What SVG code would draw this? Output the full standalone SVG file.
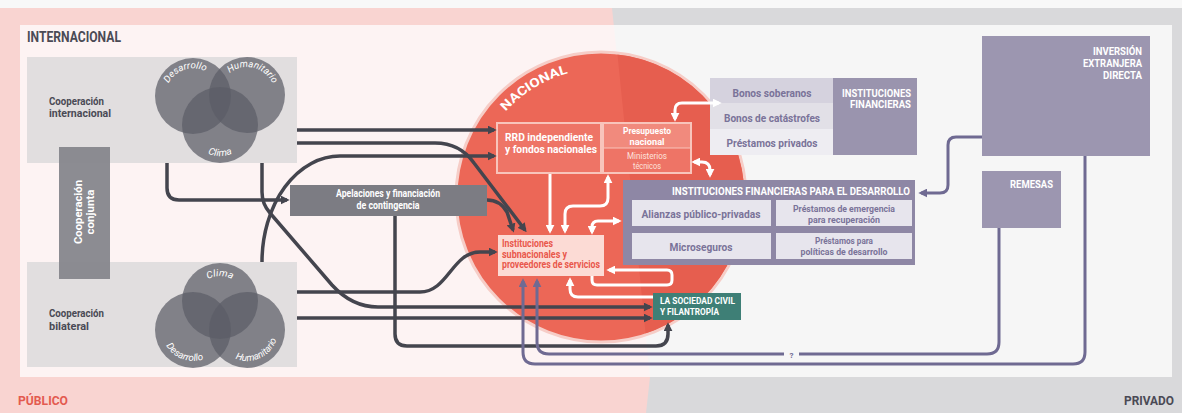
<svg xmlns="http://www.w3.org/2000/svg" width="1182" height="413" viewBox="0 0 1182 413">
<defs>
<style>
text{font-family:Roboto,"Liberation Sans",Arial,sans-serif;font-weight:700}
.dk{fill:none;stroke:#44454e;stroke-width:3.5;stroke-linejoin:round}
.wh{fill:none;stroke:#ffffff;stroke-width:3;stroke-linejoin:round}
.pu{fill:none;stroke:#6f6a92;stroke-width:3;stroke-linejoin:round}
.vn{fill:#5c5d67;fill-opacity:0.72}
.vl{fill:#ffffff;font-size:9.5px;font-style:italic;font-weight:400}
.pt{fill:#7a7399;font-size:10.5px;text-anchor:middle}
.wt{fill:#ffffff}
.cb{fill:#e1dedf}
.lb{fill:#4a4a55;font-size:11px}
</style>
<marker id="ad" viewBox="0 0 10 10" refX="7" refY="5" markerWidth="9" markerHeight="9" markerUnits="userSpaceOnUse" orient="auto-start-reverse"><path d="M0,0L10,5L0,10z" fill="#44454e"/></marker>
<marker id="aw" viewBox="0 0 10 10" refX="7" refY="5" markerWidth="9" markerHeight="9" markerUnits="userSpaceOnUse" orient="auto-start-reverse"><path d="M0,0L10,5L0,10z" fill="#ffffff"/></marker>
<marker id="ap" viewBox="0 0 10 10" refX="7" refY="5" markerWidth="9" markerHeight="9" markerUnits="userSpaceOnUse" orient="auto-start-reverse"><path d="M0,0L10,5L0,10z" fill="#6f6a92"/></marker>
<clipPath id="rightside"><polygon points="612,0 1182,0 1182,413 646,413 650,377"/></clipPath>
<path id="vp1" d="M166.6,87.2 A28,28 0 0 1 209.2,73.5"/>
<path id="vp2" d="M228.6,73.9 A28,28 0 0 1 273.1,84.9"/>
<path id="vp3" d="M193.2,141.5 A32,32 0 0 0 246.8,141.5"/>
<path id="vp4" d="M198.35,288.5 A25,25 0 0 1 241.65,288.5"/>
<path id="vp5" d="M163.1,338 A31,31 0 0 0 210.8,355.4"/>
<path id="vp6" d="M229.2,355.4 A31,31 0 0 0 277.9,332.7"/>
<path id="np" d="M480.7,153.2 A128,128 0 0 1 616.6,69.95"/>
</defs>

<g id="background">
<rect x="0" y="0" width="1182" height="413" fill="#d9d9db"/>
<polygon points="0,8 612,8 650,377 646,413 0,413" fill="#f9d4d1"/>
<rect x="0" y="0" width="1182" height="8" fill="#f8f8f8"/>
<rect x="20" y="25" width="1152" height="352" fill="#f6f6f6"/>
<polygon points="20,25 613.75,25 650,377 20,377" fill="#fdf3f3"/>
<text x="18" y="405" font-size="13" fill="#e35a4f" textLength="50" lengthAdjust="spacingAndGlyphs">PÚBLICO</text>
<text x="1124" y="405" font-size="13" fill="#4a4a55" textLength="50" lengthAdjust="spacingAndGlyphs">PRIVADO</text>
<text x="27" y="42" font-size="14" fill="#4a4a55" textLength="94" lengthAdjust="spacingAndGlyphs">INTERNACIONAL</text>
</g>

<g id="nacional">
<circle cx="601" cy="197" r="145" fill="#ec6757" stroke="#f6cdc7" stroke-width="3"/>
<circle cx="601" cy="197" r="143.5" fill="#e65e4f" clip-path="url(#rightside)"/>
<text font-size="12.5" fill="#ffffff"><textPath href="#np" startOffset="50%" text-anchor="middle" textLength="74" lengthAdjust="spacingAndGlyphs">NACIONAL</textPath></text>
</g>

<g id="coop-internacional">
<rect class="cb" x="27" y="57" width="270" height="106"/>
<text class="lb" x="49" y="105" textLength="55" lengthAdjust="spacingAndGlyphs">Cooperación</text>
<text class="lb" x="49" y="117" textLength="62" lengthAdjust="spacingAndGlyphs">internacional</text>
<circle class="vn" cx="193" cy="96" r="38"/>
<circle class="vn" cx="247" cy="95" r="38"/>
<circle class="vn" cx="220" cy="125" r="38"/>
<text class="vl"><textPath href="#vp1" startOffset="50%" text-anchor="middle" textLength="43" lengthAdjust="spacingAndGlyphs">Desarrollo</textPath></text>
<text class="vl"><textPath href="#vp2" startOffset="50%" text-anchor="middle" textLength="51" lengthAdjust="spacingAndGlyphs">Humanitario</textPath></text>
<text class="vl"><textPath href="#vp3" startOffset="50%" text-anchor="middle" textLength="25" lengthAdjust="spacingAndGlyphs">Clima</textPath></text>
</g>

<g id="coop-bilateral">
<rect class="cb" x="27" y="262" width="270" height="105"/>
<text class="lb" x="49" y="317" textLength="55" lengthAdjust="spacingAndGlyphs">Cooperación</text>
<text class="lb" x="49" y="330" textLength="40" lengthAdjust="spacingAndGlyphs">bilateral</text>
<circle class="vn" cx="220" cy="301" r="38"/>
<circle class="vn" cx="193" cy="330" r="38"/>
<circle class="vn" cx="247" cy="330" r="38"/>
<text class="vl"><textPath href="#vp4" startOffset="50%" text-anchor="middle" textLength="25" lengthAdjust="spacingAndGlyphs">Clima</textPath></text>
<text class="vl"><textPath href="#vp5" startOffset="50%" text-anchor="middle" textLength="43" lengthAdjust="spacingAndGlyphs">Desarrollo</textPath></text>
<text class="vl"><textPath href="#vp6" startOffset="50%" text-anchor="middle" textLength="51" lengthAdjust="spacingAndGlyphs">Humanitario</textPath></text>
</g>

<g id="coop-conjunta">
<rect x="59" y="147" width="51" height="132" fill="#86868c" fill-opacity="0.95"/>
<g transform="translate(85,212) rotate(-90)" font-size="11.5" fill="#ffffff">
<text x="0" y="-3" text-anchor="middle" textLength="64" lengthAdjust="spacingAndGlyphs">Cooperación</text>
<text x="0" y="9" text-anchor="middle" textLength="45" lengthAdjust="spacingAndGlyphs">conjunta</text>
</g>
</g>

<g id="apelaciones">
<rect x="290" y="185" width="197" height="31" fill="#7c7c83"/>
<text class="wt" x="388" y="197" font-size="10.5" text-anchor="middle" textLength="104" lengthAdjust="spacingAndGlyphs">Apelaciones y financiación</text>
<text class="wt" x="388" y="209" font-size="10.5" text-anchor="middle" textLength="63" lengthAdjust="spacingAndGlyphs">de contingencia</text>
</g>

<g id="rrd">
<rect x="497" y="123" width="104" height="50" fill="#ee7466" stroke="#f8c4bb" stroke-width="2"/>
<text class="wt" x="505" y="141" font-size="11.5" textLength="88" lengthAdjust="spacingAndGlyphs">RRD independiente</text>
<text class="wt" x="505" y="153" font-size="11.5" textLength="92" lengthAdjust="spacingAndGlyphs">y fondos nacionales</text>
</g>

<g id="presupuesto">
<rect x="603" y="123" width="88" height="50" fill="#ee7466" stroke="#f8c4bb" stroke-width="2"/>
<rect x="604" y="124" width="86" height="24" fill="#f18a7d"/>
<line x1="603" y1="148" x2="691" y2="148" stroke="#f8c4bb" stroke-width="1"/>
<text class="wt" x="647" y="134" font-size="9.5" text-anchor="middle" textLength="48" lengthAdjust="spacingAndGlyphs">Presupuesto</text>
<text class="wt" x="647" y="145" font-size="9.5" text-anchor="middle" textLength="35" lengthAdjust="spacingAndGlyphs">nacional</text>
<text x="647" y="159" font-size="9.5" fill="#fde2dc" text-anchor="middle" textLength="40" lengthAdjust="spacingAndGlyphs" style="font-weight:400">Ministerios</text>
<text x="647" y="169" font-size="9.5" fill="#fde2dc" text-anchor="middle" textLength="28" lengthAdjust="spacingAndGlyphs" style="font-weight:400">técnicos</text>
</g>

<g id="subnacionales">
<rect x="498" y="235" width="106" height="41" fill="#fcdbd5"/>
<text x="502" y="247" font-size="10" fill="#e9574b" textLength="51" lengthAdjust="spacingAndGlyphs">Instituciones</text>
<text x="502" y="258" font-size="10" fill="#e9574b" textLength="65" lengthAdjust="spacingAndGlyphs">subnacionales y</text>
<text x="502" y="268" font-size="10" fill="#e9574b" textLength="98" lengthAdjust="spacingAndGlyphs">proveedores de servicios</text>
</g>

<g id="sociedad-civil">
<rect x="653" y="293" width="88" height="27" fill="#3e7f76"/>
<text class="wt" x="660" y="304" font-size="9.5" textLength="75" lengthAdjust="spacingAndGlyphs">LA SOCIEDAD CIVIL</text>
<text class="wt" x="660" y="315" font-size="9.5" textLength="59" lengthAdjust="spacingAndGlyphs">Y FILANTROPÍA</text>
</g>

<g id="instituciones-financieras">
<rect x="710" y="78" width="123" height="25" fill="#d5d2de"/>
<rect x="710" y="103" width="123" height="26" fill="#e2e0e7"/>
<rect x="710" y="129" width="123" height="26" fill="#eeedf2"/>
<rect x="833" y="78" width="84" height="77" fill="#9a94ae"/>
<text class="pt" x="772" y="97" textLength="79" lengthAdjust="spacingAndGlyphs">Bonos soberanos</text>
<text class="pt" x="772" y="122" textLength="96" lengthAdjust="spacingAndGlyphs">Bonos de catástrofes</text>
<text class="pt" x="772" y="147" textLength="91" lengthAdjust="spacingAndGlyphs">Préstamos privados</text>
<text class="wt" x="911" y="97" font-size="10.5" text-anchor="end" textLength="69" lengthAdjust="spacingAndGlyphs">INSTITUCIONES</text>
<text class="wt" x="911" y="108" font-size="10.5" text-anchor="end" textLength="61" lengthAdjust="spacingAndGlyphs">FINANCIERAS</text>
</g>

<g id="ifd">
<rect x="623" y="180" width="292" height="85" fill="#8e87a5"/>
<text class="wt" x="910" y="195" font-size="10.5" text-anchor="end" textLength="238" lengthAdjust="spacingAndGlyphs">INSTITUCIONES FINANCIERAS PARA EL DESARROLLO</text>
<rect x="632" y="200" width="139" height="26" fill="#e7e5ed"/>
<rect x="776" y="200" width="136" height="26" fill="#e7e5ed"/>
<rect x="632" y="233" width="139" height="26" fill="#e7e5ed"/>
<rect x="776" y="233" width="136" height="26" fill="#e7e5ed"/>
<text class="pt" x="701" y="218" textLength="119" lengthAdjust="spacingAndGlyphs">Alianzas público-privadas</text>
<text class="pt" x="844" y="212" textLength="102" lengthAdjust="spacingAndGlyphs" style="font-size:9.5px">Préstamos de emergencia</text>
<text class="pt" x="844" y="223" textLength="72" lengthAdjust="spacingAndGlyphs" style="font-size:9.5px">para recuperación</text>
<text class="pt" x="701" y="251" textLength="63" lengthAdjust="spacingAndGlyphs">Microseguros</text>
<text class="pt" x="844" y="244" textLength="58" lengthAdjust="spacingAndGlyphs" style="font-size:9.5px">Préstamos para</text>
<text class="pt" x="844" y="255" textLength="87" lengthAdjust="spacingAndGlyphs" style="font-size:9.5px">políticas de desarrollo</text>
</g>

<g id="ied">
<rect x="982" y="36" width="168" height="120" fill="#9c96b0"/>
<text class="wt" x="1142" y="55" font-size="10.5" text-anchor="end" textLength="49" lengthAdjust="spacingAndGlyphs">INVERSIÓN</text>
<text class="wt" x="1142" y="67" font-size="10.5" text-anchor="end" textLength="59" lengthAdjust="spacingAndGlyphs">EXTRANJERA</text>
<text class="wt" x="1142" y="79" font-size="10.5" text-anchor="end" textLength="39" lengthAdjust="spacingAndGlyphs">DIRECTA</text>
</g>

<g id="remesas">
<rect x="982" y="171" width="79" height="57" fill="#9c96b0"/>
<text class="wt" x="1053" y="188" font-size="10.5" text-anchor="end" textLength="43" lengthAdjust="spacingAndGlyphs">REMESAS</text>
</g>

<g id="connectors">
<path class="dk" d="M297,130 H494" marker-end="url(#ad)"/>
<path class="dk" d="M297,143 H435 Q460,143 474,163 L525,230" marker-end="url(#ad)"/>
<path class="dk" d="M167,163 V188 Q167,200 179,200 H287" marker-end="url(#ad)"/>
<path class="dk" d="M262,163 V192 Q262,204 270,213 L332,285 Q352,307 378,307 H650" marker-end="url(#ad)"/>
<path class="dk" d="M262,262 A78,106 0 0 1 340,156 H494" marker-end="url(#ad)"/>
<path class="dk" d="M297,292 H420 C448,292 452,252 480,252 H495" marker-end="url(#ad)"/>
<path class="dk" d="M297,318 H650" marker-end="url(#ad)"/>
<path class="dk" d="M487,200 Q500,200 507,212 L513,230" marker-end="url(#ad)"/>
<path class="dk" d="M395,216 V334 Q395,346 407,346 H656 Q668,346 668,334 V325" marker-end="url(#ad)"/>

<path class="wh" d="M550,174 V231" marker-end="url(#aw)"/>
<path class="wh" d="M608,177 V198 Q608,206 600,206 H573 Q565,206 565,214 V231" marker-start="url(#aw)" marker-end="url(#aw)"/>
<path class="wh" d="M592,232 V227 Q592,221 598,221 H619" marker-start="url(#aw)" marker-end="url(#aw)"/>
<path class="wh" d="M675,119 V110 Q675,103 682,103 H719" marker-start="url(#aw)" marker-end="url(#aw)"/>
<path class="wh" d="M694,162 H702 Q710,162 710,170 V175" marker-start="url(#aw)" marker-end="url(#aw)"/>
<path class="wh" d="M592,276 V280 Q592,285 597,285 H667 Q672,285 672,280 V275 Q672,270 667,270 H609" marker-end="url(#aw)"/>
<path class="wh" d="M653,297 H578 Q570,297 570,289 V280" marker-end="url(#aw)"/>

<path class="pu" d="M982,137 H956 Q948,137 948,145 V185 Q948,193 940,193 H921" marker-end="url(#ap)"/>
<path class="pu" d="M1085,156 V352 Q1085,364 1073,364 H535 Q523,364 523,352 V281" marker-end="url(#ap)"/>
<path class="pu" d="M999,228 V342 Q999,354 987,354 H799"/>
<path class="pu" d="M784,354 H549 Q537,354 537,342 V281" marker-end="url(#ap)"/>
<text x="791.5" y="357.5" font-size="8" fill="#6f6a92" text-anchor="middle">?</text>
</g>
</svg>
